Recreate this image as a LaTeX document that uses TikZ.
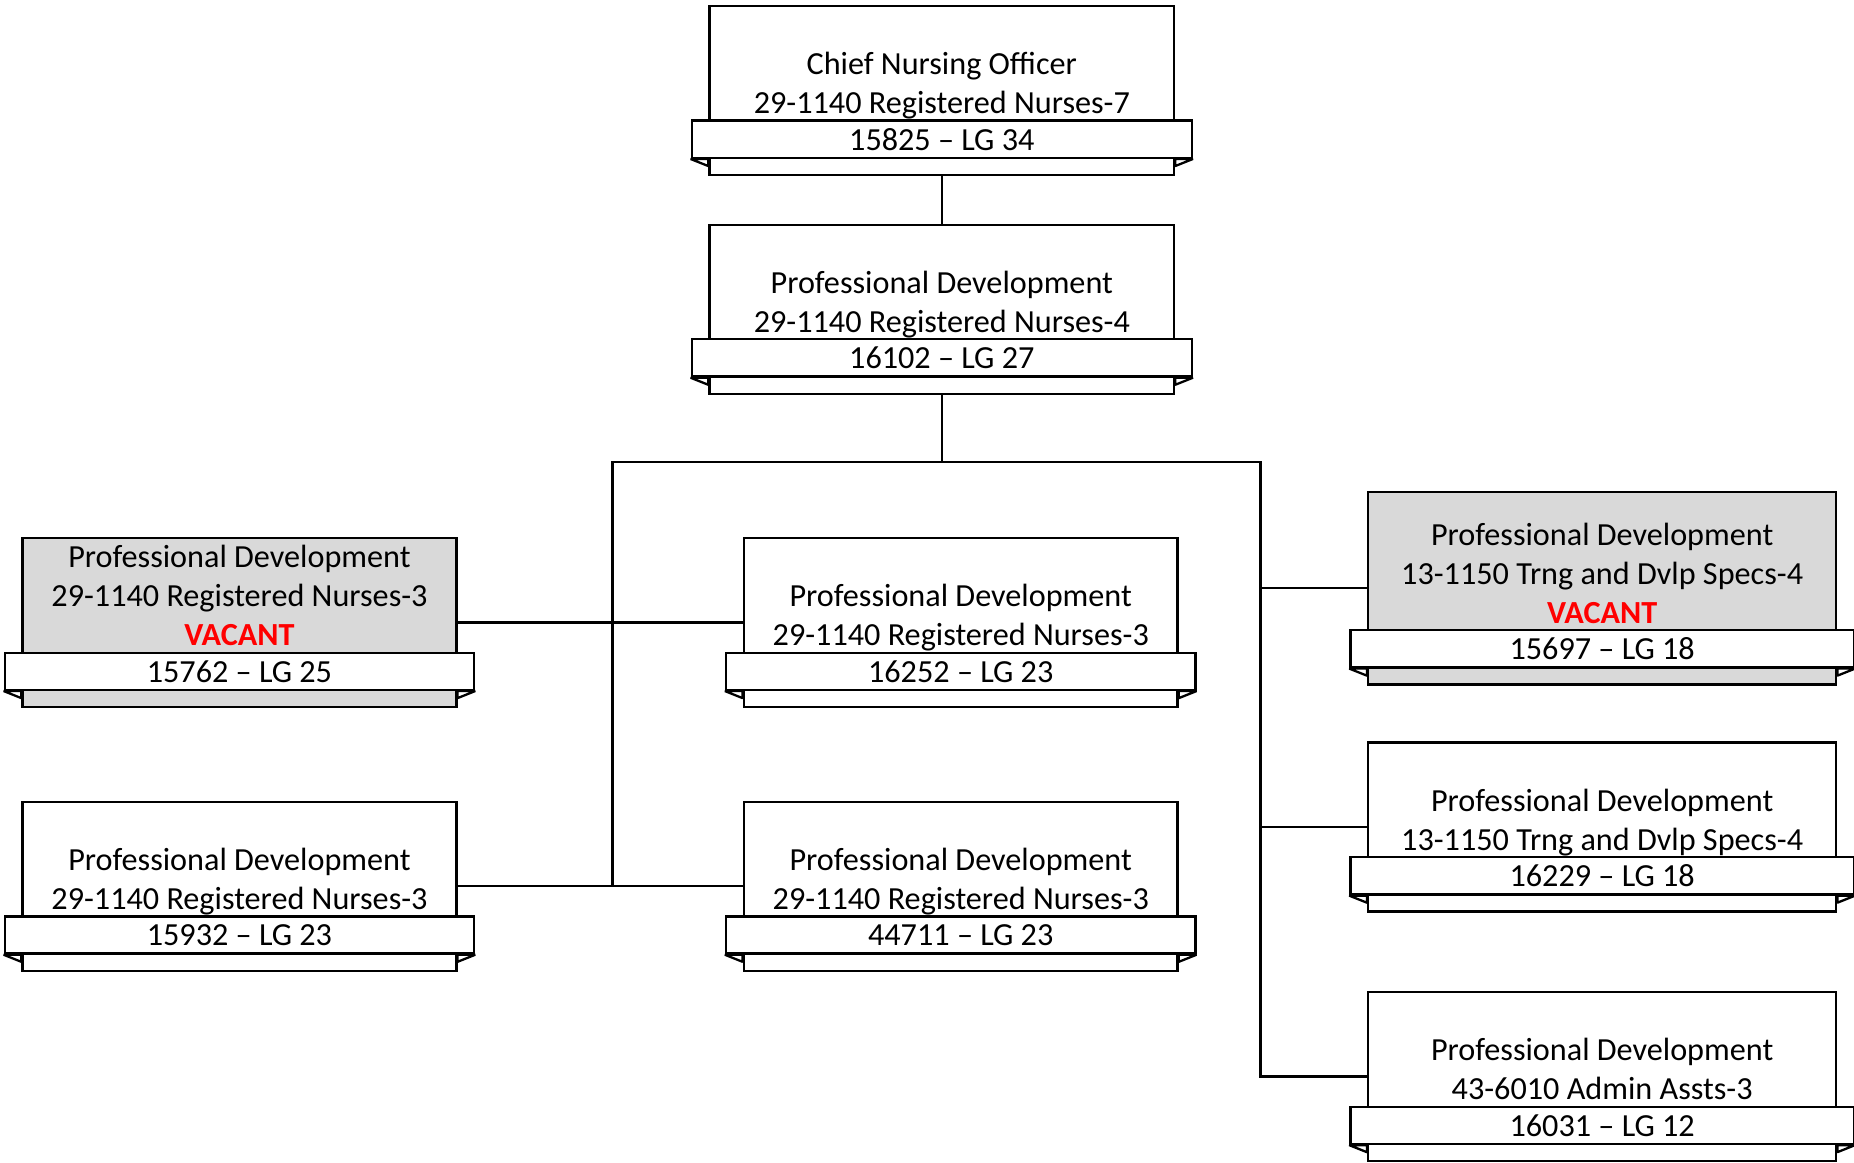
\documentclass[tikz,border=0pt]{standalone}
\usepackage{fontspec}
\setmainfont{Carlito}
\usetikzlibrary{positioning}
\definecolor{vacantgray}{RGB}{217,217,217}
\definecolor{vacantred}{RGB}{255,0,0}

\begin{document}
\begin{tikzpicture}[x=0.02cm,y=-0.02cm,line width=1.1pt,
  font=\fontsize{15.5}{18.8}\selectfont,
  post/.style={draw,fill=white,minimum width=#1,minimum height=2.86cm,inner sep=0pt},
  vac/.style={fill=vacantgray},
  band/.style={draw,fill=white,minimum width=#1,minimum height=0.63cm,inner sep=0pt},
  lines/.style={align=center,inner sep=0pt,execute at end node=\strut}]
\useasboundingbox (0,0) rectangle (1568,983);

\node[post=7.86cm] (cno) at (796.5,76.5) {};
\node[band=8.46cm,below=1.94cm of cno.north] (cnoB) {15825 -- LG 34};
\node[lines,above=-3.5pt of cnoB] {Chief Nursing Officer\\29-1140 Registered Nurses-7};

\node[post=7.86cm] (pd) at (796.5,261.5) {};
\node[band=8.46cm,below=1.94cm of pd.north] (pdB) {16102 -- LG 27};
\node[lines,above=-3.5pt of pdB] {Professional Development\\29-1140 Registered Nurses-4};

\node[post=7.34cm,vac] (l1) at (202.5,526.5) {};
\node[band=7.94cm,below=1.94cm of l1.north] (l1B) {15762 -- LG 25};
\node[lines,above=-3.5pt of l1B] {Professional Development\\29-1140 Registered Nurses-3\\
  {\bfseries\color{vacantred}VACANT}};

\node[post=7.34cm] (l2) at (202.5,749.5) {};
\node[band=7.94cm,below=1.94cm of l2.north] (l2B) {15932 -- LG 23};
\node[lines,above=-3.5pt of l2B] {Professional Development\\29-1140 Registered Nurses-3};

\node[post=7.34cm] (m1) at (812.5,526.5) {};
\node[band=7.94cm,below=1.94cm of m1.north] (m1B) {16252 -- LG 23};
\node[lines,above=-3.5pt of m1B] {Professional Development\\29-1140 Registered Nurses-3};

\node[post=7.34cm] (m2) at (812.5,749.5) {};
\node[band=7.94cm,below=1.94cm of m2.north] (m2B) {44711 -- LG 23};
\node[lines,above=-3.5pt of m2B] {Professional Development\\29-1140 Registered Nurses-3};

\node[post=7.92cm,vac,minimum height=3.26cm] (r1) at (1355,497.5) {};
\node[band=8.52cm,below=2.34cm of r1.north] (r1B) {15697 -- LG 18};
\node[lines,above=-3.5pt of r1B] {Professional Development\\13-1150 Trng and Dvlp Specs-4\\
  {\bfseries\color{vacantred}VACANT}};

\node[post=7.92cm] (r2) at (1355,699.5) {};
\node[band=8.52cm,below=1.94cm of r2.north] (r2B) {16229 -- LG 18};
\node[lines,above=-3.5pt of r2B] {Professional Development\\13-1150 Trng and Dvlp Specs-4};

\node[post=7.92cm] (r3) at (1355,910.5) {};
\node[band=8.52cm,below=1.94cm of r3.north] (r3B) {16031 -- LG 12};
\node[lines,above=-3.5pt of r3B] {Professional Development\\43-6010 Admin Assts-3};

% folded ends of the bands
\foreach \n in {cno,pd,l1,l2,m1,m2,r1,r2,r3}{
  \draw[fill=white,line join=bevel] (\n B.south west) -- (\n.west|-\n B.south) -- ++(0,6) -- cycle;
  \draw[fill=white,line join=bevel] (\n B.south east) -- (\n.east|-\n B.south) -- ++(0,6) -- cycle;
}

% connectors
\coordinate (busL) at (518,391);
\coordinate (busR) at (1066,391);
\draw (cno) -- (pd);
\draw (pd.south) -- (pd.south|-busL);
\draw (busL|-l2) -- (busL) -- (busR) |- (r3);
\draw (l1) -- (m1);
\draw (l2) -- (m2);
\draw (busR|-r1) -- (r1);
\draw (busR|-r2) -- (r2);
\end{tikzpicture}
\end{document}
